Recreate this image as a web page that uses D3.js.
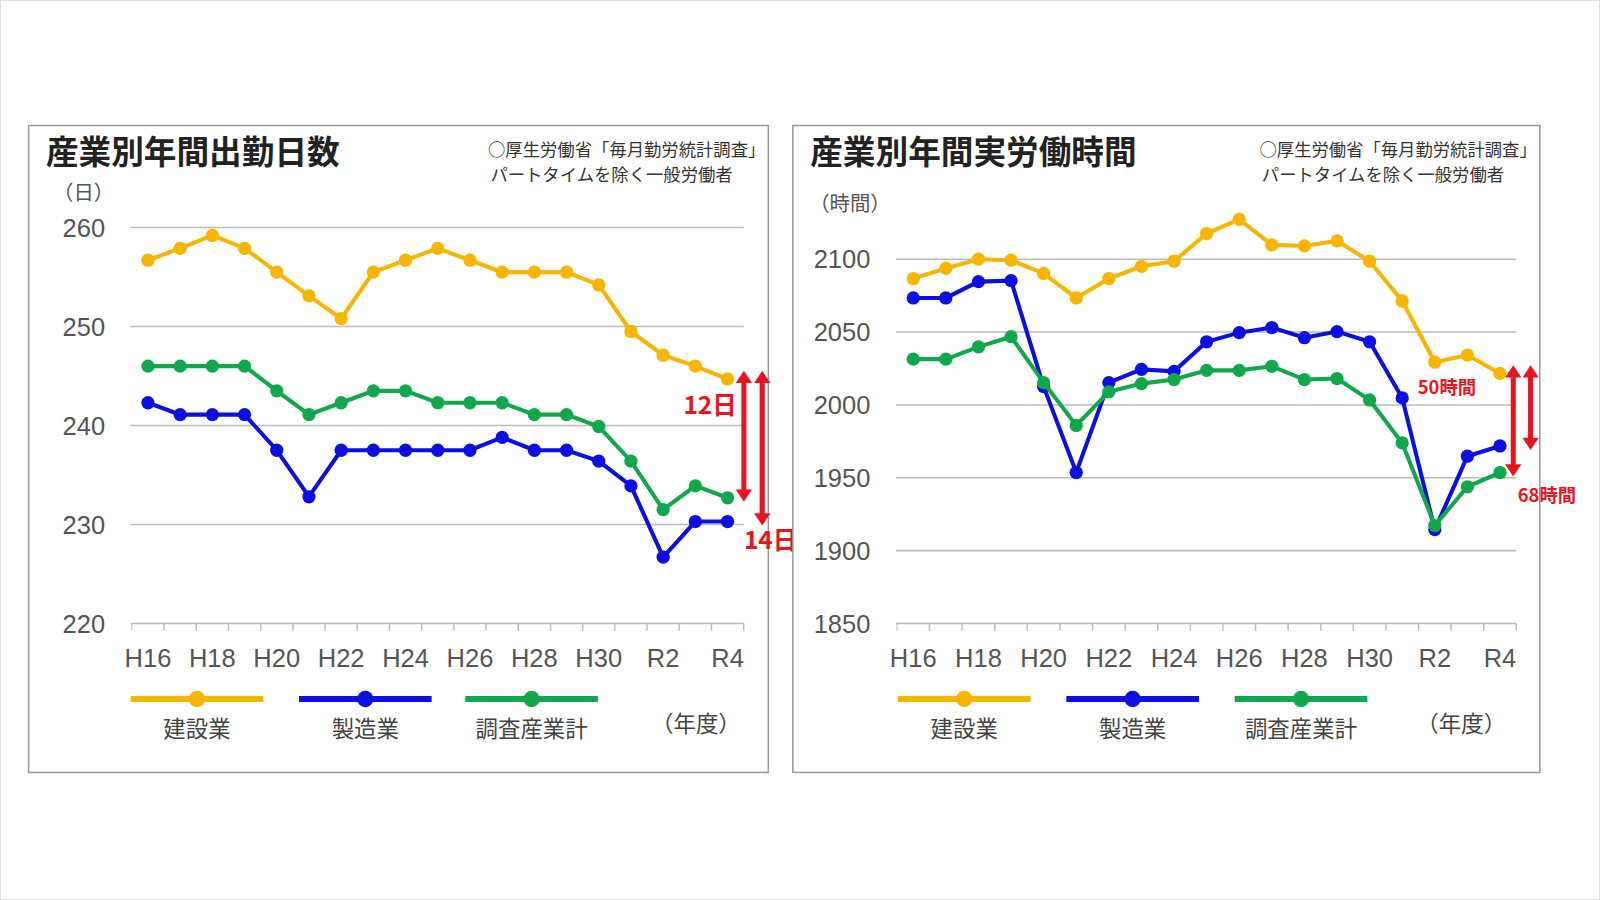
<!DOCTYPE html>
<html><head><meta charset="utf-8">
<script src="https://cdn.jsdelivr.net/npm/d3@7"></script>
<style>body{margin:0;background:#fff}svg{font-family:"Noto Sans CJK JP","Noto Sans",sans-serif}</style>
</head><body>
<svg id="c" width="1600" height="900"></svg>
<script>
const years = ['H16','H17','H18','H19','H20','H21','H22','H23','H24','H25','H26','H27','H28','H29','H30','R1','R2','R3','R4']
const tickYears = ['H16','H18','H20','H22','H24','H26','H28','H30','R2','R4']
const seriesNames = ['建設業','製造業','調査産業計']
const colors = ['#f7b500','#0a10e0','#10a84a']

const daysConstruction = [256.7,257.9,259.2,257.9,255.5,253.1,250.8,255.5,256.7,257.9,256.7,255.5,255.5,255.5,254.2,249.5,247.1,246.0,244.7]
const daysManufacturing = [242.3,241.1,241.1,241.1,237.5,232.8,237.5,237.5,237.5,237.5,237.5,238.8,237.5,237.5,236.4,233.9,226.7,230.3,230.3]
const daysAll = [246.0,246.0,246.0,246.0,243.5,241.1,242.3,243.5,243.5,242.3,242.3,242.3,241.1,241.1,239.9,236.4,231.5,233.9,232.7]
const daysTicks = [220,230,240,250,260]

const hoursConstruction = [2086.7,2093.7,2100,2099.3,2090.2,2073.4,2086.7,2095.1,2098.6,2117.6,2127.3,2109.8,2109.1,2112.6,2098.6,2071.3,2029.3,2034.2,2021.6]
const hoursManufacturing = [2073.4,2073.4,2084.6,2085.3,2012.5,1953.6,2015.3,2024.4,2023.0,2043.3,2049.6,2053.1,2046.1,2050.3,2043.3,2004.8,1914.4,1964.8,1971.8]
const hoursAll = [2031.4,2031.4,2039.8,2046.8,2015.3,1985.9,2009.0,2014.6,2017.4,2023.7,2023.7,2026.5,2017.4,2018.1,2003.4,1973.9,1917.2,1943.8,1953.6]
const hoursTicks = [1850,1900,1950,2000,2050,2100]

const root = d3.select('#c')
root.append('rect').attr('x',0.5).attr('y',0.5).attr('width',1599).attr('height',899)
  .attr('fill','#fff').attr('stroke','#ddd')
// layout measured on a 1568-wide copy of the picture
const svg = root.append('g').attr('transform','scale(' + (1600/1568) + ')')

function panel(o) {
  const g = svg.append('g')
  g.append('rect').attr('x',o.box[0]).attr('y',123).attr('width',o.box[1]-o.box[0]).attr('height',634)
    .attr('fill','#fff').attr('stroke','#999').attr('stroke-width',1.5)
  g.append('text').attr('x',o.box[0]+17).attr('y',161).attr('font-size',32).attr('font-weight','bold')
    .attr('fill','#222').text(o.title)
  g.append('text').attr('x',o.box[1]-3).attr('y',153).attr('font-size',17).attr('text-anchor','end')
    .attr('fill','#333').text('○厚生労働省「毎月勤労統計調査」')
  g.append('text').attr('x',o.box[1]-35).attr('y',177).attr('font-size',17).attr('text-anchor','end')
    .attr('fill','#333').text('パートタイムを除く一般労働者')
  g.append('text').attr('x',o.unitX).attr('y',o.unitY).attr('font-size',20).attr('fill','#555').text(o.unit)

  const x = d3.scalePoint().domain(years).range(o.xr)
  const y = d3.scaleLinear().domain(o.yd).range([611,o.yTop])

  g.selectAll('.grid').data(o.ticks).join('line')
    .attr('x1',o.gx[0]).attr('x2',o.gx[1]).attr('y1',d=>y(d)).attr('y2',d=>y(d))
    .attr('stroke','#bbb').attr('stroke-width',1.5)
  g.selectAll('.yl').data(o.ticks).join('text')
    .attr('x',o.gx[0]-25).attr('y',d=>y(d)+9).attr('text-anchor','end')
    .attr('font-size',25).attr('fill','#555').attr('font-family','Liberation Sans,Arial,sans-serif').text(d=>d)
  g.selectAll('.tk').data(years).join('line')
    .attr('x1',d=>x(d)+o.step/2).attr('x2',d=>x(d)+o.step/2).attr('y1',611).attr('y2',618)
    .attr('stroke','#bbb').attr('stroke-width',1.5)
  g.append('line').attr('x1',x(years[0])-o.step/2).attr('x2',x(years[0])-o.step/2).attr('y1',611).attr('y2',618).attr('stroke','#bbb')
  g.selectAll('.xl').data(tickYears).join('text')
    .attr('x',d=>x(d)).attr('y',654).attr('text-anchor','middle')
    .attr('font-size',25).attr('fill','#555').attr('font-family','Liberation Sans,Arial,sans-serif').text(d=>d)

  const line = d3.line().x((d,i)=>x(years[i])).y(d=>y(d))
  o.series.forEach((s,k)=>{
    g.append('path').attr('d',line(s)).attr('fill','none').attr('stroke',colors[k]).attr('stroke-width',4)
    g.selectAll('.p'+k).data(s).join('circle')
      .attr('cx',(d,i)=>x(years[i])).attr('cy',d=>y(d)).attr('r',6.5).attr('fill',colors[k])
  })

  seriesNames.forEach((n,k)=>{
    const lx = o.legX[k]
    g.append('line').attr('x1',lx-65).attr('x2',lx+65).attr('y1',685).attr('y2',685)
      .attr('stroke',colors[k]).attr('stroke-width',6)
    g.append('circle').attr('cx',lx).attr('cy',685).attr('r',8).attr('fill',colors[k])
    g.append('text').attr('x',lx).attr('y',722).attr('text-anchor','middle')
      .attr('font-size',22).attr('fill','#444').text(n)
  })
  g.append('text').attr('x',o.nendoX).attr('y',717).attr('text-anchor','middle')
    .attr('font-size',22).attr('fill','#444').text('（年度）')

  const last = years.length-1
  const red = '#e8141e'
  o.arrows.forEach(a=>{
    const y1 = y(o.series[0][last]) - 8, y2 = y(o.series[a.k][last]) + 4
    g.append('line').attr('x1',a.x).attr('x2',a.x).attr('y1',y1+10).attr('y2',y2-10)
      .attr('stroke',red).attr('stroke-width',5)
    g.append('path').attr('d',`M${a.x-8},${y1+12}L${a.x},${y1}L${a.x+8},${y1+12}Z`).attr('fill',red)
    g.append('path').attr('d',`M${a.x-8},${y2-12}L${a.x},${y2}L${a.x+8},${y2-12}Z`).attr('fill',red)
    g.append('text').attr('x',a.tx).attr('y',a.ty).attr('font-size',a.fs).attr('font-weight','bold')
      .attr('fill',red).attr('text-anchor',a.anchor).text(a.label)
  })
}

panel({
  box:[28,753], title:'産業別年間出勤日数', unit:'（日）', unitX:52, unitY:196,
  xr:[145,713], step:31.6, yd:[220,260], yTop:223, ticks:daysTicks, gx:[128,729],
  series:[daysConstruction,daysManufacturing,daysAll],
  legX:[193,358,521], nendoX:682,
  arrows:[{k:2,x:729,tx:722,ty:406,fs:24,anchor:'end',label:'12日'},
          {k:1,x:747,tx:729,ty:538,fs:24,anchor:'start',label:'14日'}]
})
panel({
  box:[777,1509], title:'産業別年間実労働時間', unit:'（時間）', unitX:793, unitY:207,
  xr:[895,1470], step:31.95, yd:[1850,2100], yTop:254, ticks:hoursTicks, gx:[878,1486],
  series:[hoursConstruction,hoursManufacturing,hoursAll],
  legX:[945,1110,1275], nendoX:1432,
  arrows:[{k:2,x:1483,tx:1418,ty:386,fs:18,anchor:'middle',label:'50時間'},
          {k:1,x:1500,tx:1516,ty:492,fs:18,anchor:'middle',label:'68時間'}]
})
</script>
</body></html>
